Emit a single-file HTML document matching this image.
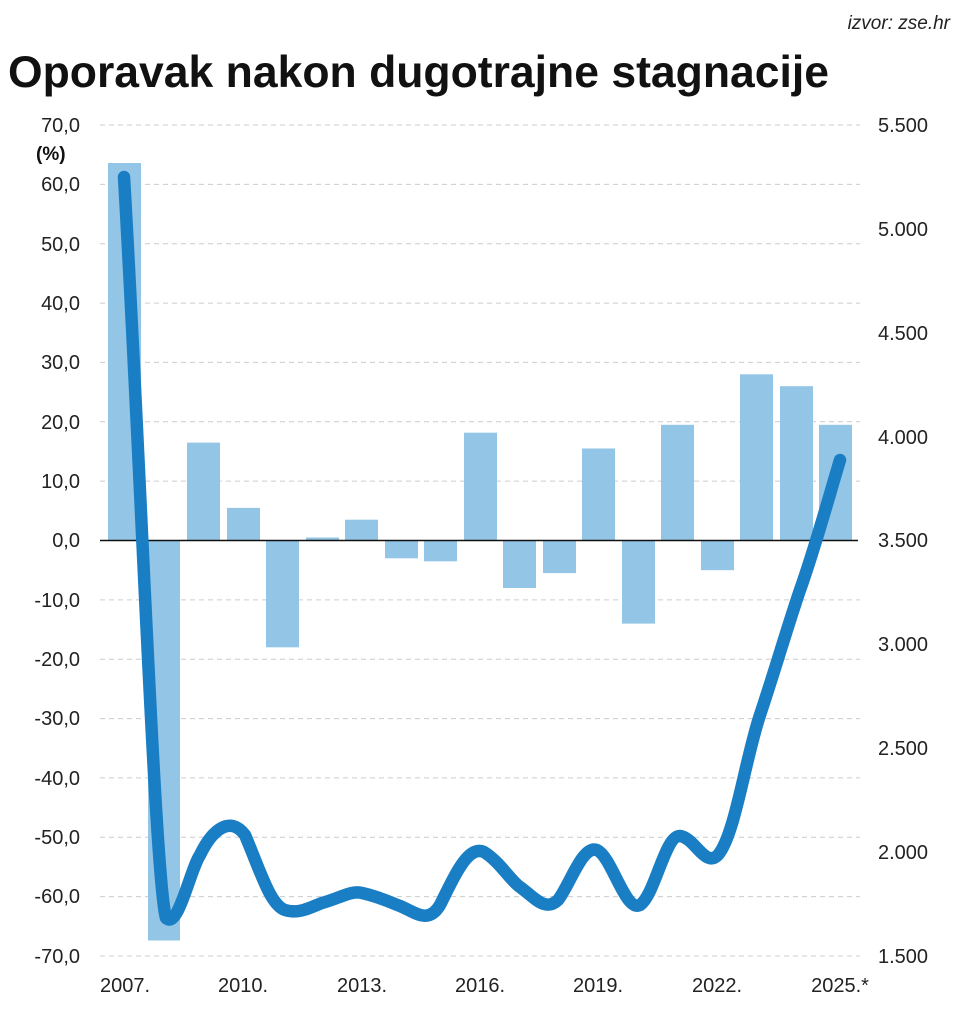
<!DOCTYPE html>
<html><head><meta charset="utf-8"><style>
body{margin:0;background:#fff;width:963px;height:1012px;overflow:hidden;font-family:"Liberation Sans",sans-serif}
</style></head><body>
<svg width="963" height="1012" xmlns="http://www.w3.org/2000/svg" font-family="Liberation Sans, sans-serif">
<text x="950" y="29" text-anchor="end" font-size="19" font-style="italic" fill="#222">izvor: zse.hr</text>
<text x="8" y="87" font-size="44.5" font-weight="bold" fill="#111">Oporavak nakon dugotrajne stagnacije</text>
<g stroke="#ccc" stroke-dasharray="5,4" stroke-width="1">
<line x1="100" x2="860" y1="125" y2="125"/><line x1="100" x2="860" y1="184.4" y2="184.4"/><line x1="100" x2="860" y1="243.7" y2="243.7"/><line x1="100" x2="860" y1="303.1" y2="303.1"/><line x1="100" x2="860" y1="362.4" y2="362.4"/><line x1="100" x2="860" y1="421.8" y2="421.8"/><line x1="100" x2="860" y1="481.1" y2="481.1"/><line x1="100" x2="860" y1="599.9" y2="599.9"/><line x1="100" x2="860" y1="659.2" y2="659.2"/><line x1="100" x2="860" y1="718.6" y2="718.6"/><line x1="100" x2="860" y1="777.9" y2="777.9"/><line x1="100" x2="860" y1="837.3" y2="837.3"/><line x1="100" x2="860" y1="896.6" y2="896.6"/><line x1="100" x2="860" y1="956" y2="956"/>
</g>
<g font-size="20" fill="#222" text-anchor="end">
<text x="80" y="132">70,0</text><text x="80" y="191">60,0</text><text x="80" y="251">50,0</text><text x="80" y="310">40,0</text><text x="80" y="369">30,0</text><text x="80" y="429">20,0</text><text x="80" y="488">10,0</text><text x="80" y="547">0,0</text><text x="80" y="607">-10,0</text><text x="80" y="666">-20,0</text><text x="80" y="725">-30,0</text><text x="80" y="785">-40,0</text><text x="80" y="844">-50,0</text><text x="80" y="903">-60,0</text><text x="80" y="963">-70,0</text>
</g>
<text x="36" y="160" font-size="19" font-weight="bold" fill="#111">(%)</text>
<g font-size="20" fill="#222">
<text x="878" y="132">5.500</text><text x="878" y="236">5.000</text><text x="878" y="340">4.500</text><text x="878" y="444">4.000</text><text x="878" y="547">3.500</text><text x="878" y="651">3.000</text><text x="878" y="755">2.500</text><text x="878" y="859">2.000</text><text x="878" y="963">1.500</text>
</g>
<g fill="#93c5e6">
<rect x="108" y="163" width="33" height="377.5"/>
<rect x="148" y="540.5" width="32" height="400"/>
<rect x="187" y="442.6" width="33" height="97.9"/>
<rect x="227" y="507.9" width="33" height="32.6"/>
<rect x="266" y="540.5" width="33" height="106.8"/>
<rect x="306" y="537.5" width="33" height="3"/>
<rect x="345" y="519.7" width="33" height="20.8"/>
<rect x="385" y="540.5" width="33" height="17.8"/>
<rect x="424" y="540.5" width="33" height="20.8"/>
<rect x="464" y="432.7" width="33" height="107.8"/>
<rect x="503" y="540.5" width="33" height="47.5"/>
<rect x="543" y="540.5" width="33" height="32.6"/>
<rect x="582" y="448.5" width="33" height="92"/>
<rect x="622" y="540.5" width="33" height="83.1"/>
<rect x="661" y="424.8" width="33" height="115.7"/>
<rect x="701" y="540.5" width="33" height="29.7"/>
<rect x="740" y="374.3" width="33" height="166.2"/>
<rect x="780" y="386.2" width="33" height="154.3"/>
<rect x="819" y="424.8" width="33" height="115.7"/>
</g>
<line x1="100" x2="858" y1="540.5" y2="540.5" stroke="#111" stroke-width="1.5"/>
<path d="M124,177 C140,450 155,880 166,918 C178,930 190,870 200,855 C212,830 230,815 245,835 C260,870 270,905 285,910 C300,915 315,905 322,903 C340,898 352,890 362,893 C380,897 392,903 400,906 C415,912 428,925 440,905 C455,875 468,845 484,852 C500,862 510,880 520,887 C535,898 545,912 558,900 C570,885 582,845 597,850 C612,857 625,912 640,905 C655,895 665,835 680,836 C695,838 705,868 718,855 C735,835 745,760 760,715 C775,670 788,625 800,590 C815,548 828,500 840,460" fill="none" stroke="#1a7ec4" stroke-width="12.5" stroke-linecap="round" stroke-linejoin="round"/>
<g font-size="20" fill="#222" text-anchor="middle">
<text x="125" y="992">2007.</text><text x="243" y="992">2010.</text><text x="362" y="992">2013.</text><text x="480" y="992">2016.</text><text x="598" y="992">2019.</text><text x="717" y="992">2022.</text><text x="840" y="992">2025.*</text>
</g>
</svg>
</body></html>
